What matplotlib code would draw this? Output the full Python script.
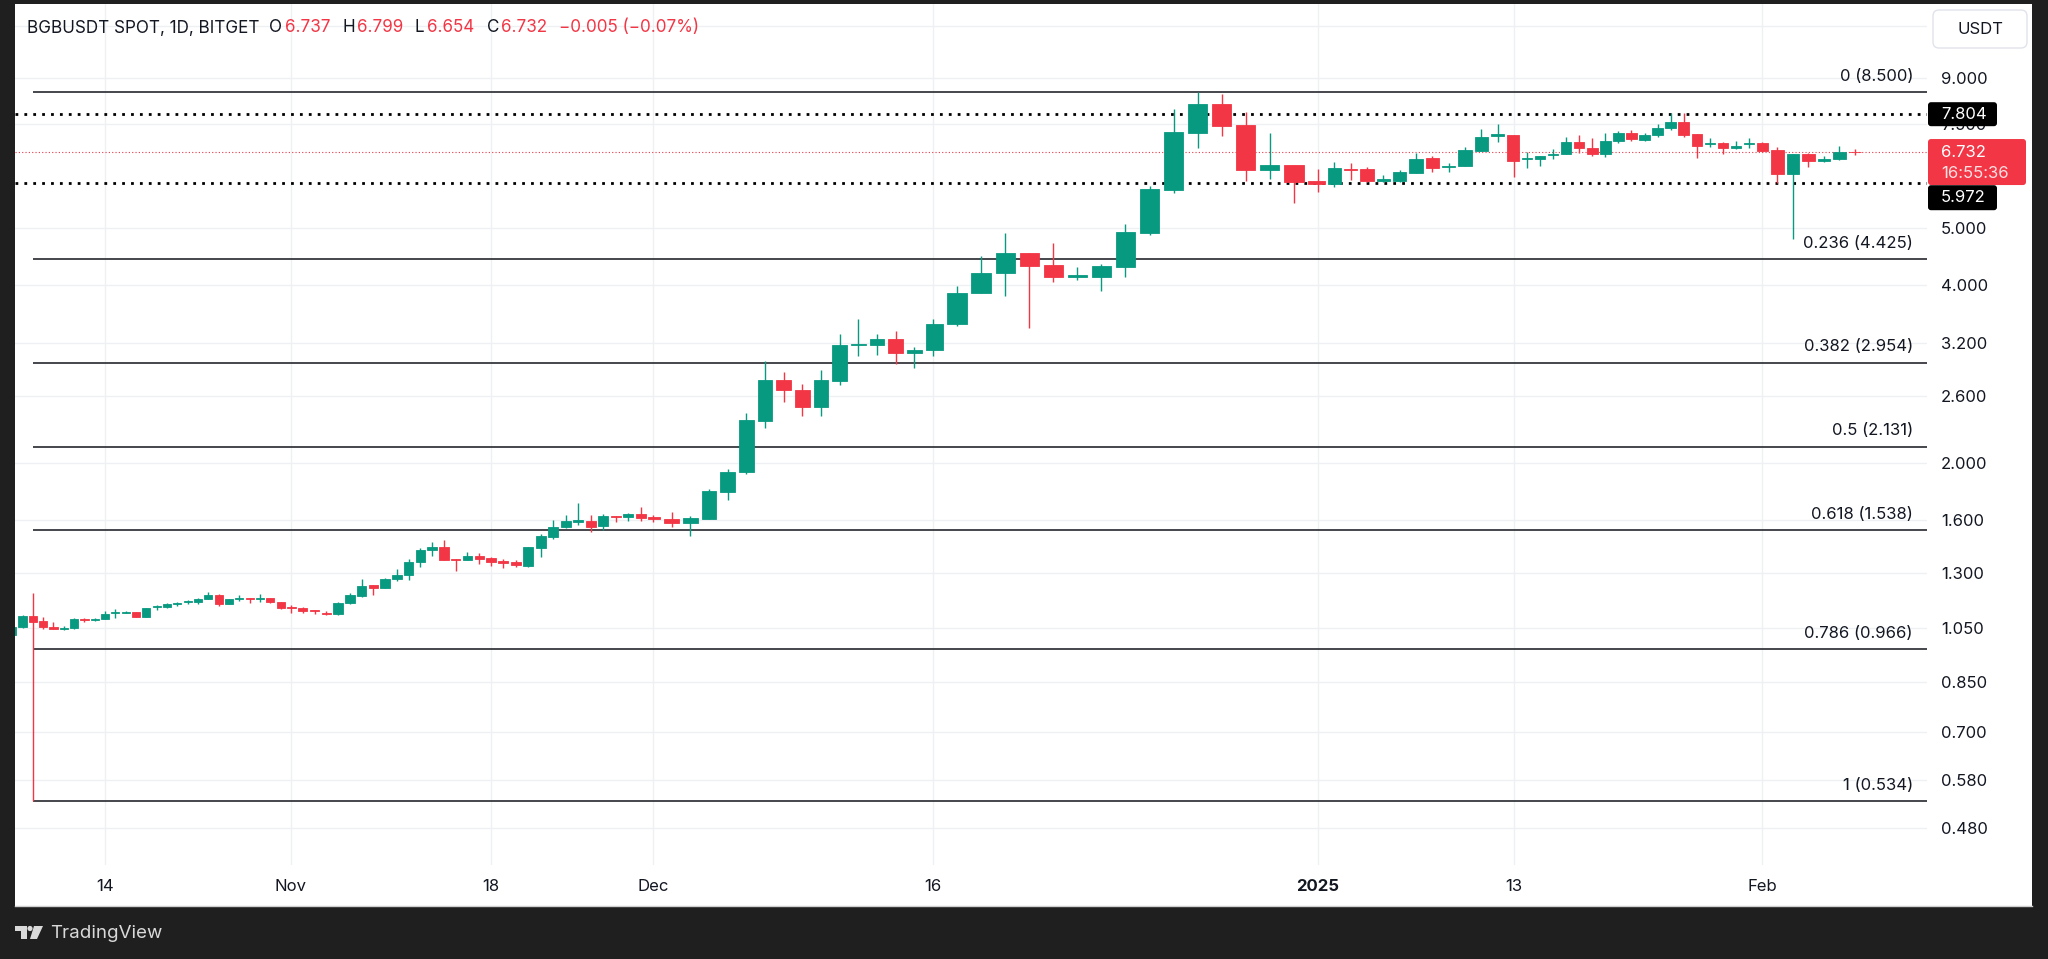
"""BGBUSDT daily candles with fib retracement, TradingView-style screenshot."""

import matplotlib
matplotlib.use("Agg")
import matplotlib.dates as mdates
import matplotlib.pyplot as plt
import matplotlib.transforms as mtransforms
import numpy as np
import pandas as pd
from matplotlib.patches import FancyBboxPatch, Polygon, Rectangle, Circle
from matplotlib.text import Text
from matplotlib.ticker import NullLocator

W, H = 2048, 959
GREEN, RED, INK = "#089981", "#f23645", "#131722"
DARK = "#1f1f1f"
plt.rcParams["font.family"] = ["Inter", "DejaVu Sans"]

# ---- data -------------------------------------------------------------------
dates = pd.date_range("2024-10-05", "2025-02-07", freq="D")

opens = [
    # Oct 5-31
    1.021, 1.055, 1.100, 1.078, 1.055, 1.047, 1.048, 1.088, 1.083, 1.086, 1.115, 1.115, 1.117, 1.097,
    1.141, 1.141, 1.151, 1.160, 1.160, 1.176, 1.195, 1.151, 1.177, 1.182, 1.177, 1.179, 1.160,
    # Nov
    1.141, 1.136, 1.125, 1.115, 1.108, 1.156, 1.191, 1.242, 1.229, 1.271, 1.291, 1.360, 1.423, 1.442,
    1.374, 1.369, 1.390, 1.379, 1.363, 1.356, 1.337, 1.436, 1.499, 1.559, 1.590, 1.596, 1.563, 1.628,
    1.621, 1.636,
    # Dec
    1.621, 1.604, 1.583, 1.608, 1.788, 1.928, 2.358, 2.761, 2.658, 2.491, 2.757, 3.173, 3.173, 3.244,
    3.068, 3.104, 3.436, 3.880, 4.196, 4.539, 4.326, 4.138, 4.138, 4.300, 4.910, 5.805, 7.260, 8.110,
    7.470, 6.277, 6.393,
    # Jan
    6.012, 5.936, 6.310, 6.290, 6.012, 6.012, 6.210, 6.570, 6.350, 6.370, 6.760, 7.176, 7.190, 6.545,
    6.545, 6.655, 6.680, 7.010, 6.831, 6.673, 7.029, 7.243, 7.056, 7.197, 7.404, 7.579, 7.216, 6.939,
    6.966, 6.831, 6.947,
    # Feb 1-7
    6.983, 6.788, 6.172, 6.680, 6.509, 6.545, 6.737,
]
highs = [
    1.060, 1.104, 1.202, 1.095, 1.073, 1.059, 1.090, 1.092, 1.092, 1.123, 1.129, 1.123, 1.119, 1.136,
    1.148, 1.156, 1.163, 1.171, 1.182, 1.209, 1.200, 1.176, 1.195, 1.182, 1.198, 1.182, 1.163,
    1.148, 1.141, 1.126, 1.123, 1.160, 1.202, 1.271, 1.242, 1.274, 1.320, 1.373, 1.436, 1.470, 1.480,
    1.374, 1.414, 1.405, 1.384, 1.373, 1.369, 1.442, 1.515, 1.600, 1.632, 1.708, 1.632, 1.636, 1.628,
    1.643, 1.682,
    1.632, 1.649, 1.626, 1.804, 1.953, 2.433, 2.977, 2.852, 2.725, 2.871, 3.305, 3.504, 3.312, 3.348,
    3.141, 3.504, 3.990, 4.486, 4.908, 4.539, 4.714, 4.293, 4.348, 5.083, 5.896, 7.955, 8.500, 8.440,
    7.880, 7.260, 6.393,
    6.300, 6.484, 6.443, 6.350, 6.148, 6.277, 6.716, 6.630, 6.458, 6.858, 7.366, 7.511, 7.190, 6.726,
    6.637, 6.804, 7.132, 7.197, 7.104, 7.260, 7.309, 7.338, 7.260, 7.511, 7.850, 7.850, 7.216, 7.104,
    7.010, 7.037, 7.104,
    7.010, 6.858, 6.680, 6.716, 6.637, 6.893, 6.799,
]
lows = [
    1.015, 1.051, 0.534, 1.046, 1.045, 1.041, 1.046, 1.076, 1.080, 1.086, 1.092, 1.112, 1.094, 1.094,
    1.126, 1.137, 1.145, 1.151, 1.151, 1.176, 1.143, 1.151, 1.166, 1.156, 1.160, 1.158, 1.129,
    1.115, 1.115, 1.108, 1.104, 1.104, 1.153, 1.184, 1.195, 1.226, 1.263, 1.266, 1.333, 1.390, 1.369,
    1.313, 1.369, 1.345, 1.337, 1.327, 1.333, 1.333, 1.387, 1.484, 1.549, 1.570, 1.525, 1.539, 1.590,
    1.594, 1.596,
    1.586, 1.559, 1.505, 1.608, 1.732, 1.915, 2.292, 2.534, 2.404, 2.404, 2.712, 3.031, 3.047, 2.938,
    2.900, 3.031, 3.418, 3.880, 3.842, 3.391, 4.058, 4.085, 3.913, 4.128, 4.870, 5.745, 6.830, 7.168,
    6.012, 6.053, 5.511,
    5.767, 5.880, 6.037, 5.996, 5.996, 5.996, 6.197, 6.236, 6.236, 6.370, 6.760, 7.010, 6.114, 6.334,
    6.375, 6.545, 6.680, 6.716, 6.637, 6.611, 6.983, 7.029, 7.029, 7.132, 7.338, 7.148, 6.571, 6.858,
    6.673, 6.812, 6.831,
    6.726, 5.973, 4.794, 6.357, 6.484, 6.527, 6.654,
]
closes = [
    1.055, 1.100, 1.076, 1.055, 1.046, 1.051, 1.086, 1.082, 1.088, 1.109, 1.119, 1.119, 1.097, 1.134,
    1.145, 1.153, 1.159, 1.166, 1.176, 1.193, 1.151, 1.174, 1.182, 1.177, 1.182, 1.162, 1.137,
    1.137, 1.122, 1.120, 1.108, 1.156, 1.193, 1.238, 1.229, 1.271, 1.293, 1.360, 1.423, 1.442, 1.369,
    1.369, 1.390, 1.374, 1.360, 1.351, 1.344, 1.438, 1.505, 1.559, 1.594, 1.600, 1.559, 1.626, 1.621,
    1.636, 1.611,
    1.604, 1.583, 1.611, 1.792, 1.933, 2.365, 2.761, 2.655, 2.491, 2.761, 3.173, 3.181, 3.244, 3.068,
    3.108, 3.440, 3.882, 4.203, 4.539, 4.314, 4.138, 4.159, 4.314, 4.921, 5.821, 7.272, 8.112, 7.463,
    6.277, 6.393, 5.996,
    5.936, 6.326, 6.284, 6.012, 6.053, 6.221, 6.560, 6.334, 6.375, 6.778, 7.140, 7.216, 6.501, 6.580,
    6.637, 6.680, 7.010, 6.831, 6.673, 7.029, 7.243, 7.076, 7.197, 7.404, 7.579, 7.197, 6.901, 6.966,
    6.831, 6.901, 6.966,
    6.760, 6.172, 6.680, 6.509, 6.553, 6.737, 6.732,
]

fib_levels = ["0", "0.236", "0.382", "0.5", "0.618", "0.786", "1"]
fib_prices = [8.500, 4.425, 2.954, 2.131, 1.538, 0.966, 0.534]
marked_levels = [7.804, 5.972]
countdown = "16:55:36"

price_ticks = [0.48, 0.58, 0.70, 0.85, 1.05, 1.3, 1.6, 2.0, 2.6, 3.2, 4.0, 5.0, 7.5, 9.0, 11.0]
hidden_ticks = [11.0]  # label sits under the currency box
date_ticks = pd.to_datetime(["2024-10-14", "2024-11-01", "2024-11-18", "2024-12-01",
                             "2024-12-16", "2025-01-01", "2025-01-13", "2025-02-01"])
date_labels = ["14", "Nov", "18", "Dec", "16", "2025", "13", "Feb"]

# the screenshot's time axis is not evenly spaced: calibrate it on the tick dates
knot_dates = pd.to_datetime(["2024-10-04", "2024-10-14", "2024-11-01", "2024-11-18", "2024-12-01",
                             "2024-12-16", "2025-01-01", "2025-01-13", "2025-02-01", "2025-02-07",
                             "2025-02-16"])
knot_px = [2, 105, 291, 491, 653, 933, 1318, 1514, 1762, 1855, 1995]
kx = mdates.date2num(knot_dates)


def fwd(v):
    return np.interp(v, kx, knot_px)


def inv(u):
    return np.interp(u, knot_px, kx)


def fx(x):
    return x / W


def fy(y):
    return 1 - y / H


# ---- figure -----------------------------------------------------------------
fig = plt.figure(figsize=(W / 100, H / 100), dpi=100, facecolor=DARK)
fig.add_artist(Rectangle((fx(15), fy(906)), fx(2032) - fx(15), fy(4) - fy(906),
                         transform=fig.transFigure, fc="white", ec="none", zorder=-5))
fig.add_artist(plt.Line2D([fx(15), fx(2032)], [fy(906), fy(906)], transform=fig.transFigure,
                          color="#cfcfcf", lw=1, zorder=-4))

ax = fig.add_axes([fx(15), fy(865), fx(1927) - fx(15), fy(4) - fy(865)])
ax.set_facecolor("none")
ax.set_xscale("function", functions=(fwd, inv))
ax.set_yscale("log")

x = mdates.date2num(dates)
o, h, l, c = (np.array(a) for a in (opens, highs, lows, closes))
cols = np.where(c >= o, GREEN, RED)
ax.vlines(x, l, h, colors=cols, lw=1.0, zorder=3)
ax.bar(x, np.abs(c - o), bottom=np.minimum(o, c), width=0.8, color=cols, edgecolor=cols,
       linewidth=0.6, zorder=4)

x_right = inv(1927)
ax.set_xlim(inv(15), x_right)
ax.set_ylim(0.416, 12.0)

# fib retracement anchored on the swing low candle
x_anchor = x[int(np.argmin(l))]
ax.hlines(fib_prices, x_anchor, x_right, color="#26282e", lw=1.2, zorder=2)
for lvl, p in zip(fib_levels, fib_prices):
    ax.annotate(f"{lvl} ({p:.3f})", xy=((1913 - 15) / 1912, p), xycoords=ax.get_yaxis_transform(),
                xytext=(0, 16), textcoords="offset pixels", ha="right", va="center",
                fontsize=12, color=INK, zorder=6)

for lv in marked_levels:
    ax.axhline(lv, color="black", lw=2.0, ls=(0, (1, 2.2)), zorder=2)
ax.axhline(c[-1], color=RED, lw=0.8, ls=(0, (1, 2.0)), zorder=2)

# axes styling
for s in ax.spines.values():
    s.set_visible(False)
ax.yaxis.tick_right()
ax.set_yticks(price_ticks)
ax.set_yticklabels(["" if t in hidden_ticks else f"{t:.3f}" for t in price_ticks])
ax.yaxis.set_minor_locator(NullLocator())
ax.set_xticks(mdates.date2num(date_ticks))
ax.set_xticklabels(date_labels)
ax.xaxis.set_minor_locator(NullLocator())
ax.get_xticklabels()[5].set_fontweight("bold")
ax.tick_params(axis="y", length=0, pad=10, labelsize=12, labelcolor=INK)
ax.tick_params(axis="x", length=0, pad=10, labelsize=12, labelcolor=INK)
ax.grid(True, color="#eef0f3", lw=1, zorder=0)
ax.set_axisbelow(True)


# price tags on the scale
def tag(value, texts, fc, w, hgt, dy=0):
    trans = mtransforms.IdentityTransform() + mtransforms.ScaledTranslation(
        1.0, value, ax.get_yaxis_transform())
    fig.add_artist(FancyBboxPatch((1, -dy - hgt / 2), w, hgt, boxstyle="round,pad=0,rounding_size=3",
                                  transform=trans, fc=fc, ec="none", zorder=5))
    for s, ty, alpha in texts:
        fig.add_artist(Text(14, -ty, s, transform=trans, color="white", alpha=alpha,
                            va="center", ha="left", fontsize=12, zorder=6))


tag(marked_levels[0], [(f"{marked_levels[0]:.3f}", 0, 1)], "black", 69, 24)
tag(c[-1], [(f"{c[-1]:.3f}", 0, 1), (countdown, 21, 0.85)], RED, 98, 46, dy=10)
tag(marked_levels[1], [(f"{marked_levels[1]:.3f}", 15, 1)], "black", 69, 25, dy=15)

# currency box
fig.add_artist(FancyBboxPatch((1933, H - 48), 94, 38, boxstyle="round,pad=0,rounding_size=6",
                              transform=mtransforms.IdentityTransform(), fc="white",
                              ec="#e0e3eb", lw=1, zorder=5))
fig.text(fx(1980), fy(29), "USDT", ha="center", va="center", fontsize=12, color=INK, zorder=6)

# header line: symbol, then OHLC of the last candle and the change vs the previous close
prev = fig.text(fx(27), fy(28), "BGBUSDT SPOT, 1D, BITGET", fontsize=12.3, color=INK, va="center")
chg = c[-1] - c[-2]
pieces = [("O", INK, 10), (f"{o[-1]:.3f}", RED, 2), ("H", INK, 12), (f"{h[-1]:.3f}", RED, 2),
          ("L", INK, 12), (f"{l[-1]:.3f}", RED, 2), ("C", INK, 13), (f"{c[-1]:.3f}", RED, 2),
          (f"{chg:+.3f} ({chg / c[-2] * 100:+.2f}%)".replace("-", "\u2212"), RED, 12)]
for s, col, gap in pieces:
    prev = ax.annotate(s, xy=(1, 0.5), xycoords=prev, xytext=(gap, 0), textcoords="offset pixels",
                       ha="left", va="center", fontsize=12.3, color=col, annotation_clip=False)

# TradingView mark
logo = "#d9d9d9"
ident = mtransforms.IdentityTransform()
fig.add_artist(Rectangle((15, H - 931), 12, 5, transform=ident, fc=logo, ec="none"))
fig.add_artist(Rectangle((21, H - 939), 6, 13, transform=ident, fc=logo, ec="none"))
fig.add_artist(Circle((30, H - 928.5), 2.6, transform=ident, fc=logo, ec="none"))
fig.add_artist(Polygon([(34, H - 926), (43, H - 926), (37, H - 939), (30, H - 939)],
                       transform=ident, fc=logo, ec="none"))
fig.text(fx(50), fy(933), "TradingView", fontsize=13.5, color=logo, va="center")

fig.savefig("out.png", dpi=100, facecolor=DARK)
